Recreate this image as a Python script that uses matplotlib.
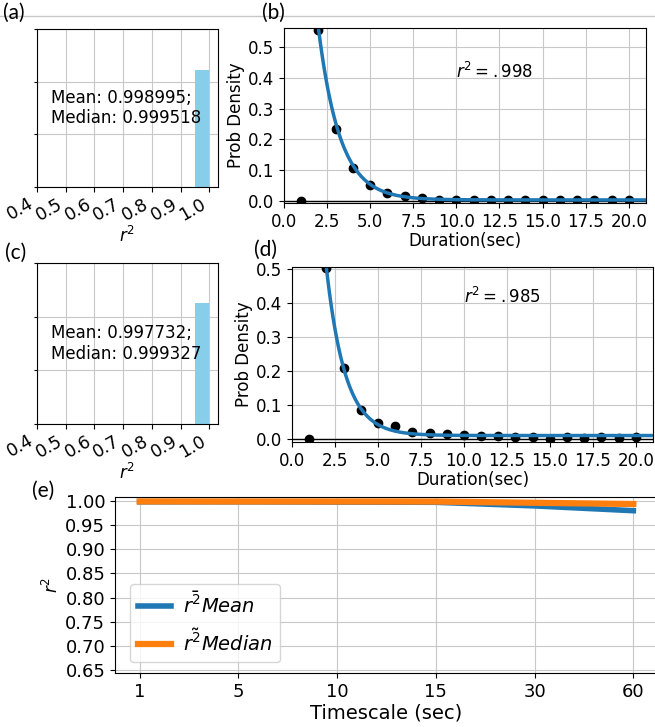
import numpy as np
import matplotlib.pyplot as plt
from matplotlib.lines import Line2D

# histogram panels (a) and (c): bin edges and heights
bin_edges = [0.40, 0.45, 0.50, 0.55, 0.60, 0.65, 0.70, 0.75, 0.80, 0.85, 0.90, 0.95, 1.00]
hist_a = [0, 0, 0, 0, 0, 0, 0, 0, 0, 0, 0, 17.7]
hist_c = [0, 0, 0, 0, 0, 0, 0, 0, 0, 0, 0, 18.0]
hist_ticks = [0, 8, 16, 24]
stats_a = "Mean: 0.998995;\nMedian: 0.999518"
stats_c = "Mean: 0.997732;\nMedian: 0.999327"
hist_xticks = [0.4, 0.5, 0.6, 0.7, 0.8, 0.9, 1.0]

# duration distributions (b) and (d)
duration = [1, 2, 3, 4, 5, 6, 7, 8, 9, 10, 11, 12, 13, 14, 15, 16, 17, 18, 19, 20]
dens_b = [0.0, 0.558, 0.233, 0.107, 0.052, 0.025, 0.015, 0.008, 0.003, 0.003,
          0.001, 0.001, 0.001, 0.001, 0.001, 0.001, 0.001, 0.001, 0.001, 0.001]
dens_d = [0.0, 0.505, 0.210, 0.085, 0.048, 0.038, 0.022, 0.019, 0.016, 0.013,
          0.010, 0.009, 0.006, 0.006, 0.002, 0.007, 0.003, 0.007, 0.003, 0.007]
# exponential fit a*exp(-b*x)+c
fit_b = (2.77, 0.80, 0.002)
fit_d = (3.05, 0.91, 0.011)
r2_b = r'$r^2 = .998$'
r2_d = r'$r^2 = .985$'
dur_ticks = [0.0, 2.5, 5.0, 7.5, 10.0, 12.5, 15.0, 17.5, 20.0]

# timescale summary (e)
timescales = ['1', '5', '10', '15', '30', '60']
r2_mean = [0.9990, 0.9990, 0.9985, 0.9980, 0.9905, 0.9805]
r2_median = [0.9998, 0.9997, 0.9996, 0.9995, 0.9970, 0.9944]
e_yticks = [0.65, 0.70, 0.75, 0.80, 0.85, 0.90, 0.95, 1.00]

W, H = 655, 727
fig = plt.figure(figsize=(W / 100, H / 100), dpi=100)


def rect(l, t, r, b):
    return [l / W, 1 - b / H, (r - l) / W, (b - t) / H]


def hist_panel(box, heights, stats):
    ax = fig.add_axes(rect(*box))
    ax.bar(bin_edges[:-1], heights, width=0.05, align='edge', color='skyblue', zorder=2)
    ax.set_xlim(0.4, 1.03)
    ax.set_ylim(0, hist_ticks[-1])
    ax.set_yticks(hist_ticks)
    ax.set_yticklabels([])
    ax.set_xticks(hist_xticks)
    ax.set_xticklabels(['%.1f' % v for v in hist_xticks], rotation=30, ha='right',
                       fontsize=12.5)
    ax.tick_params(axis='y', length=2)
    ax.tick_params(axis='x', pad=2)
    ax.grid(True, color='#c8c8c8')
    ax.set_axisbelow(True)
    ax.text(0.076, 0.5, stats, transform=ax.transAxes, va='center', fontsize=12, zorder=3)
    ax.set_xlabel(r'$r^2$', fontsize=12, labelpad=1)
    return ax


def dur_panel(box, dens, fit, r2, top):
    ax = fig.add_axes(rect(*box))
    ax.axhline(0, color='k', lw=1)
    ax.plot(duration, dens, 'ko', ms=6)
    a, b, c = fit
    xs = np.linspace(2, 21, 200)
    ax.plot(xs, a * np.exp(-b * xs) + c, color='#1f77b4', lw=2.5)
    ax.set_xlim(0, 21)
    ax.set_ylim(-0.008, top)
    ax.set_xticks(dur_ticks)
    ax.set_yticks([0.0, 0.1, 0.2, 0.3, 0.4, 0.5])
    ax.tick_params(labelsize=12)
    ax.grid(True, color='#c8c8c8')
    ax.text(10, 0.4, r2, fontsize=12)
    ax.set_xlabel('Duration(sec)', fontsize=12, labelpad=1)
    ax.set_ylabel('Prob Density', fontsize=12, labelpad=2)
    return ax


hist_panel((37, 29, 218, 187), hist_a, stats_a)
hist_panel((37, 263, 218, 424), hist_c, stats_c)
dur_panel((284, 28, 646, 203), dens_b, fit_b, r2_b, 0.563)
dur_panel((292, 267, 653, 442), dens_d, fit_d, r2_d, 0.507)

ax = fig.add_axes(rect(115, 497, 658, 673))
pos = np.arange(len(timescales))
ax.plot(pos, r2_mean, color='#1f77b4', lw=4, label=r'$\bar{r^2} Mean$')
ax.plot(pos, r2_median, color='#ff7f0e', lw=4.5, label=r'$\tilde{r^2} Median$')
ax.set_xticks(pos)
ax.set_xticklabels(timescales)
ax.set_xlim(-0.25, 5.25)
ax.set_ylim(0.643, 1.009)
ax.set_yticks(e_yticks)
ax.tick_params(axis='y', labelsize=13)
ax.tick_params(axis='x', labelsize=13)
ax.grid(True, color='#c8c8c8')
ax.set_xlabel('Timescale (sec)', fontsize=14, labelpad=2)
ax.set_ylabel(r'$r^2$', fontsize=12, labelpad=2)
ax.legend(loc='lower left', fontsize=14, handlelength=1.7, handletextpad=0.6,
          borderpad=0.4, labelspacing=0.55, bbox_to_anchor=(0.01, 0.005))

# panel letters and separator line
fig.add_artist(Line2D([0, 1], [1 - 16 / H] * 2, color='#c8c8c8', lw=1))
for lab, x, y in [('(a)', 3, 13), ('(b)', 262, 13), ('(c)', 5, 253),
                  ('(d)', 254, 250), ('(e)', 32, 491)]:
    fig.text(x / W, 1 - y / H, lab, fontsize=15, family='Lato', va='center', ha='left')

fig.savefig('out.png', dpi=100)
